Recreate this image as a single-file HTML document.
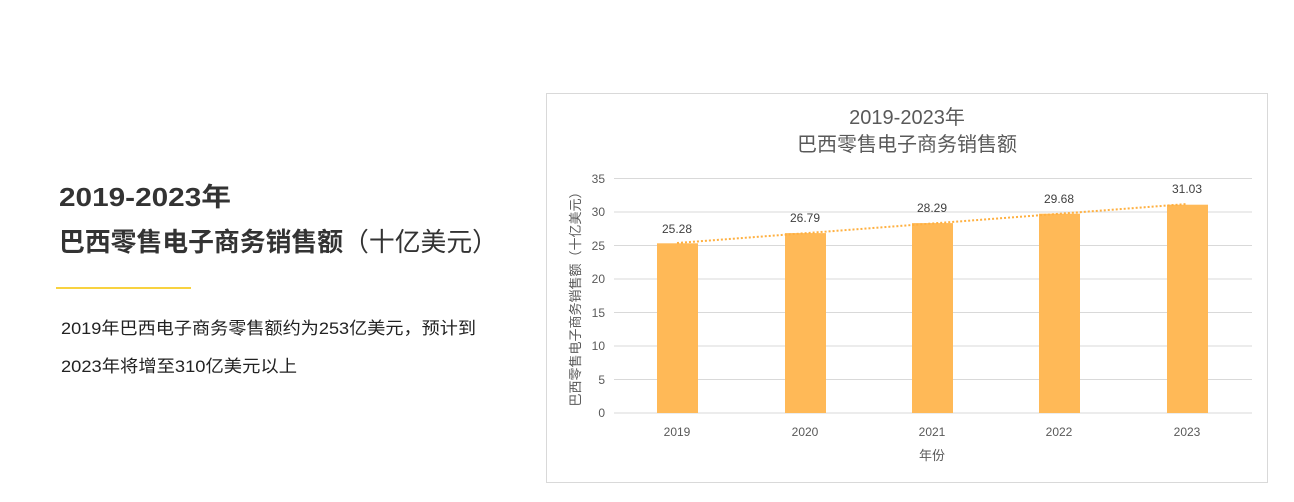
<!DOCTYPE html>
<html><head><meta charset="utf-8"><style>
body{margin:0;width:1294px;height:502px;background:#fff;overflow:hidden;font-family:"Liberation Sans","Noto Sans CJK SC",sans-serif}
</style></head><body>
<svg width="1294" height="502" xmlns="http://www.w3.org/2000/svg" style="position:absolute;left:0;top:0;font-family:'Liberation Sans','Noto Sans CJK SC',sans-serif">
<text x="59" y="206" font-size="26" font-weight="bold" fill="#333" textLength="172" lengthAdjust="spacingAndGlyphs">2019-2023年</text>
<text x="59" y="251" font-size="26" fill="#333" textLength="439" lengthAdjust="spacingAndGlyphs"><tspan font-weight="bold">巴西零售电子商务销售额</tspan>（十亿美元）</text>
<line x1="56" y1="288" x2="191" y2="288" stroke="#f5c400" stroke-width="1.5"/>
<text x="61" y="334" font-size="17" fill="#222" textLength="415" lengthAdjust="spacingAndGlyphs">2019年巴西电子商务零售额约为253亿美元，预计到</text>
<text x="61" y="372" font-size="17" fill="#222" textLength="236" lengthAdjust="spacingAndGlyphs">2023年将增至310亿美元以上</text>
<rect x="546.5" y="93.5" width="721" height="389" fill="#fff" stroke="#d9d9d9"/>
<text x="907" y="124" font-size="20" fill="#595959" text-anchor="middle">2019-2023年</text>
<text x="907" y="151" font-size="20" fill="#595959" text-anchor="middle">巴西零售电子商务销售额</text>
<g stroke="#d9d9d9" stroke-width="1">
<line x1="614" y1="178.5" x2="1252" y2="178.5"/><line x1="614" y1="212" x2="1252" y2="212"/>
<line x1="614" y1="245.5" x2="1252" y2="245.5"/><line x1="614" y1="279" x2="1252" y2="279"/>
<line x1="614" y1="312.5" x2="1252" y2="312.5"/><line x1="614" y1="346" x2="1252" y2="346"/>
<line x1="614" y1="379.5" x2="1252" y2="379.5"/><line x1="614" y1="413" x2="1252" y2="413"/>
</g>
<g font-size="12" fill="#595959" text-anchor="end">
<text x="605" y="183">35</text><text x="605" y="216">30</text><text x="605" y="250">25</text><text x="605" y="283">20</text>
<text x="605" y="317">15</text><text x="605" y="350">10</text><text x="605" y="384">5</text><text x="605" y="417">0</text>
</g>
<g fill="#ffb957">
<rect x="657" y="243.3" width="41" height="169.7"/>
<rect x="785" y="233.1" width="41" height="179.9"/>
<rect x="912" y="223.1" width="41" height="189.9"/>
<rect x="1039" y="213.7" width="41" height="199.3"/>
<rect x="1167" y="204.7" width="41" height="208.3"/>
</g>
<line x1="677" y1="243" x2="1187" y2="204" stroke="#ffb040" stroke-width="2" stroke-dasharray="2,2"/>
<g font-size="12" fill="#404040" text-anchor="middle">
<text x="677" y="233">25.28</text><text x="805" y="222">26.79</text><text x="932" y="212">28.29</text>
<text x="1059" y="203">29.68</text><text x="1187" y="193">31.03</text>
</g>
<g font-size="12" fill="#595959" text-anchor="middle">
<text x="677" y="436">2019</text><text x="805" y="436">2020</text><text x="932" y="436">2021</text>
<text x="1059" y="436">2022</text><text x="1187" y="436">2023</text>
<text x="932" y="460" font-size="13">年份</text>
</g>
<text transform="translate(580,296) rotate(-90)" font-size="13" fill="#595959" text-anchor="middle">巴西零售电子商务销售额（十亿美元）</text>
</svg>
</body></html>
